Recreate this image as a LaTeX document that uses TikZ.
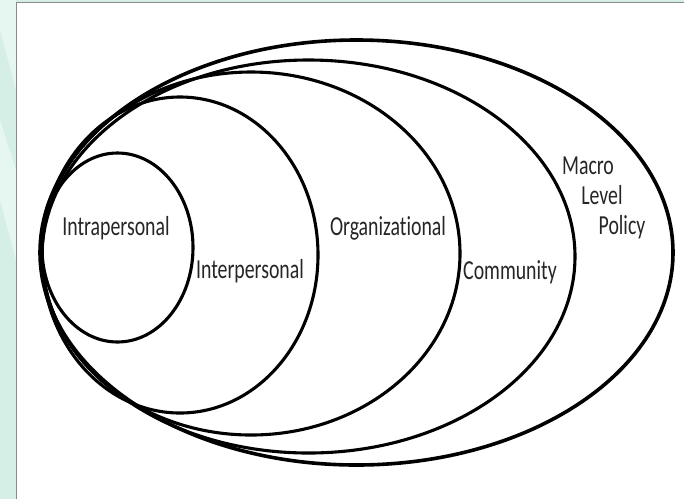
\documentclass[tikz,border=0pt]{standalone}
\usepackage{fontspec}
\setmainfont{Carlito}[Ligatures=NoCommon]
\usetikzlibrary{shapes.geometric}
\definecolor{tealbg}{HTML}{D5EFE6}
\definecolor{teallight}{HTML}{E6F6F0}
\definecolor{framegray}{HTML}{8A8A8A}
\definecolor{inkc}{HTML}{262626}
\tikzset{
  ring/.style={ellipse, draw=black, line width=3.1pt, inner sep=0pt, outer sep=0pt},
  lbl/.style={anchor=base, inner sep=0pt, text=inkc, font=\fontsize{27.5}{32}\selectfont},
}
\newcommand{\sq}[1]{\scalebox{0.72}[1]{#1}}
\begin{document}
\begin{tikzpicture}[x=1pt,y=-1pt]
\useasboundingbox (0,0) rectangle (684,499);
% background strips
\fill[tealbg] (0,0) rectangle (684,499);
\fill[teallight] (0,0) -- (16,0) -- (16,90) -- (0,30) -- cycle;
\fill[teallight] (0,120) -- (16,170) -- (16,260) -- (0,200) -- cycle;
\fill[white] (16,2) rectangle (684,499);
\draw[framegray, line width=0.8pt] (16,499) -- (16,2) -- (684,2);
% rings
\node[ring, minimum width=633pt, minimum height=425pt, line width=3.6pt] (macro) at (356.5,252.5) {};
\node[ring, minimum width=533pt, minimum height=393pt] (community) at (308.5,256.5) {};
\node[ring, minimum width=418pt, minimum height=363pt] (org) at (251,253.5) {};
\node[ring, minimum width=276pt, minimum height=316pt] (inter) at (180,255) {};
\node[ring, minimum width=151pt, minimum height=189pt] (intra) at (117.5,247.5) {};
% labels
\node[lbl] (tintra) at (116,235) {\sq{Intrapersonal}};
\node[lbl] (tinter) at (250,278) {\sq{Interpersonal}};
\node[lbl] (torg) at (388,235) {\sq{Organizational}};
\node[lbl] (tcomm) at (510,279) {\sq{Community}};
\node[lbl] (tmacro) at (588,174) {\sq{Macro}};
\node[lbl] (tlevel) at (602,204) {\sq{Level}};
\node[lbl] (tpolicy) at (622,234) {\sq{Policy}};
\end{tikzpicture}
\end{document}
